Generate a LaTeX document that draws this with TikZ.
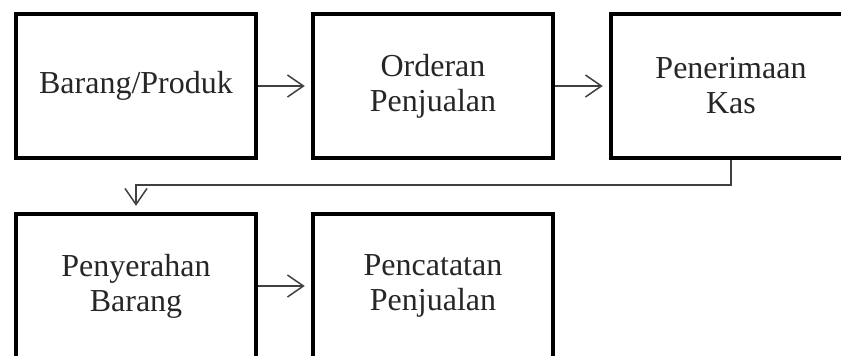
\documentclass[tikz,border=0pt]{standalone}
\usepackage{fontspec}
\setmainfont{Liberation Serif}
\usetikzlibrary{arrows.meta}
\begin{document}
\begin{tikzpicture}[x=1pt,y=1pt,
  procbox/.style={draw=black, line width=4.5pt, minimum width=240pt, minimum height=144pt,
    align=center, inner sep=0pt, font=\fontsize{32}{35}\selectfont, text=black!85},
  flow/.style={line width=1.5pt, draw=black!75, -{Straight Barb[length=16pt,width=22pt,line width=1.5pt]}, shorten >=6pt}]
  \useasboundingbox (0,0) rectangle (841,-356);
  % top row
  \node[procbox] (b1) at (136,-86) {Barang/Produk};
  \node[procbox] (b2) at (433,-86) {Orderan\\Penjualan};
  \node[procbox] (b3) at (731,-86) {Penerimaan\\Kas};
  % bottom row
  \node[procbox] (b4) at (136,-286) {Penyerahan\\Barang};
  \node[procbox] (b5) at (433,-286) {Pencatatan\\Penjualan};
  \coordinate (bend) at (136,-185);
  % connectors
  \draw[flow] (b1.east) -- (b2.west);
  \draw[flow] (b2.east) -- (b3.west);
  \draw[flow] (b3.south) |- (bend) -- (b4.north);
  \draw[flow] (b4.east) -- (b5.west);
\end{tikzpicture}
\end{document}
